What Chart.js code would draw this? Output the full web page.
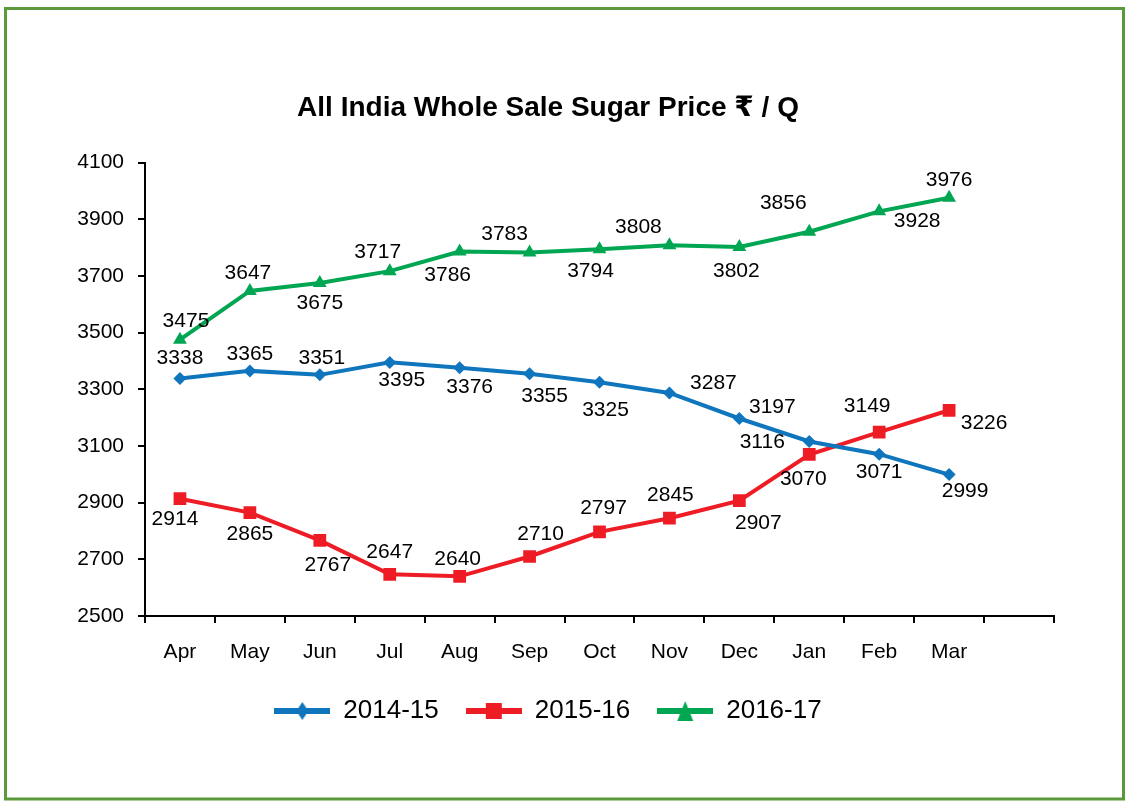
<!DOCTYPE html>
<html>
<head>
<meta charset="utf-8">
<title>All India Whole Sale Sugar Price</title>
<script src="https://cdn.jsdelivr.net/npm/chart.js@4"></script>
<style>
  html, body { margin: 0; padding: 0; background: #fff; }
  #wrap { width: 1129px; height: 807px; }
</style>
</head>
<body>
<div id="wrap"><canvas id="sugarChart" width="1129" height="807"></canvas></div>
<script>
// Months of the sugar year (last slot is left empty like the original)
const months = ['Apr', 'May', 'Jun', 'Jul', 'Aug', 'Sep', 'Oct', 'Nov', 'Dec', 'Jan', 'Feb', 'Mar', ''];

// Prices in Rs per quintal
const price2014 = [3338, 3365, 3351, 3395, 3376, 3355, 3325, 3287, 3197, 3116, 3071, 2999];
const price2015 = [2914, 2865, 2767, 2647, 2640, 2710, 2797, 2845, 2907, 3070, 3149, 3226];
const price2016 = [3475, 3647, 3675, 3717, 3786, 3783, 3794, 3808, 3802, 3856, 3928, 3976];

const seasons = ['2014-15', '2015-16', '2016-17'];
const yTicks = [2500, 2700, 2900, 3100, 3300, 3500, 3700, 3900, 4100];

const colors = ['#0F75BD', '#EE1C25', '#00A651'];
const FONT = "'Liberation Sans', Arial, 'DejaVu Sans', sans-serif";

// where each value label sits, relative to its point (dx, dy) in px
const labelNudge = [
    [[0,-20],[0,-17],[2,-17],[12,18],[10,19],[15,22],[6,28],[44,-10],[33,-11],[-47,1],[0,18],[16,17]],
    [[-5,21],[0,22],[8,25],[0,-22],[-2,-17],[11,-22],[4,-24],[1,-23],[19,23],[-6,25],[-12,-26],[35,13]],
    [[6,-19],[-2,-18],[0,20],[-12,-19],[-12,24],[-25,-18],[-9,22],[-31,-18],[-3,24],[-26,-29],[38,10],[0,-18]]
];

// legend swatch: thick line with the marker in the middle
function legendSwatch(color, shape) {
    const c = document.createElement('canvas');
    c.width = 56; c.height = 22;
    const g = c.getContext('2d');
    g.fillStyle = color;
    g.fillRect(0, 8, 56, 6);
    g.beginPath();
    if (shape === 'diamond') {
        g.moveTo(28, 2); g.lineTo(34, 11); g.lineTo(28, 20); g.lineTo(22, 11);
    } else if (shape === 'square') {
        g.rect(20, 3, 16, 16);
    } else {
        g.moveTo(28, 1); g.lineTo(36, 21); g.lineTo(20, 21);
    }
    g.closePath();
    g.fill();
    return c;
}
const swatches = [
    legendSwatch(colors[0], 'diamond'),
    legendSwatch(colors[1], 'square'),
    legendSwatch(colors[2], 'triangle')
];

// green frame round the whole picture
const framePlugin = {
    id: 'frame',
    beforeDraw(chart) {
        const c = chart.ctx;
        c.save();
        c.fillStyle = '#ffffff';
        c.fillRect(0, 0, chart.width, chart.height);
        c.strokeStyle = '#5A9A3A';
        c.lineWidth = 3;
        c.strokeRect(5.5, 8.5, 1118, 790.5);
        c.restore();
    }
};

// value labels next to every point
const valueLabels = {
    id: 'valueLabels',
    afterDatasetsDraw(chart) {
        const c = chart.ctx;
        c.save();
        c.font = '21px ' + FONT;
        c.fillStyle = '#000';
        c.textAlign = 'center';
        c.textBaseline = 'middle';
        chart.data.datasets.forEach((ds, i) => {
            chart.getDatasetMeta(i).data.forEach((pt, j) => {
                const n = labelNudge[i][j];
                c.fillText(String(ds.data[j]), pt.x + n[0], pt.y + n[1]);
            });
        });
        c.restore();
    }
};

const series = [price2014, price2015, price2016];
const shapes = ['rectRot', 'rect', 'triangle'];
const radii = [6.5, 9, 8];

const ctx = document.getElementById('sugarChart').getContext('2d');
const sugarChart = new Chart(ctx, {
    type: 'line',
    data: {
        labels: months,
        datasets: series.map((vals, i) => ({
            label: seasons[i],
            data: vals,
            borderColor: colors[i],
            backgroundColor: colors[i],
            borderWidth: 4,
            pointStyle: shapes[i],
            pointRadius: radii[i],
            pointBorderWidth: 0,
            tension: 0
        }))
    },
    options: {
        responsive: false,
        animation: false,
        layout: { padding: { left: 42, right: 75, top: 0, bottom: 73 } },
        plugins: {
            tooltip: { enabled: false },
            title: {
                display: true,
                text: 'All India Whole Sale Sugar Price \u20B9 / Q',
                color: '#000',
                font: { family: FONT, size: 28, weight: 'bold' },
                padding: { top: 91, bottom: 38 }
            },
            legend: {
                position: 'bottom',
                labels: {
                    usePointStyle: true,
                    pointStyleWidth: 56,
                    color: '#000',
                    font: { family: FONT, size: 26 },
                    padding: 27,
                    generateLabels(chart) {
                        return chart.data.datasets.map((ds, i) => ({
                            text: ds.label,
                            pointStyle: swatches[i],
                            fillStyle: colors[i],
                            strokeStyle: colors[i],
                            lineWidth: 0,
                            hidden: false,
                            datasetIndex: i
                        }));
                    }
                }
            }
        },
        scales: {
            x: {
                offset: true,
                grid: {
                    offset: true,
                    drawOnChartArea: false,
                    color: '#000',
                    lineWidth: 2,
                    tickLength: 7
                },
                border: { color: '#000', width: 2 },
                ticks: {
                    color: '#000',
                    font: { family: FONT, size: 21 },
                    padding: 17,
                    maxRotation: 0,
                    autoSkip: false
                },
                afterFit(scale) { scale.height = 55; }
            },
            y: {
                min: 2500,
                max: 4100,
                afterBuildTicks(scale) { scale.ticks = yTicks.map(v => ({ value: v })); },
                grid: {
                    drawOnChartArea: false,
                    color: '#000',
                    lineWidth: 2,
                    tickLength: 7
                },
                border: { color: '#000', width: 2 },
                ticks: {
                    color: '#000',
                    font: { family: FONT, size: 21 },
                    padding: 14,
                    callback: v => String(v)
                },
                afterFit(scale) { scale.width = 103; }
            }
        }
    },
    plugins: [framePlugin, valueLabels]
});
</script>
</body>
</html>
